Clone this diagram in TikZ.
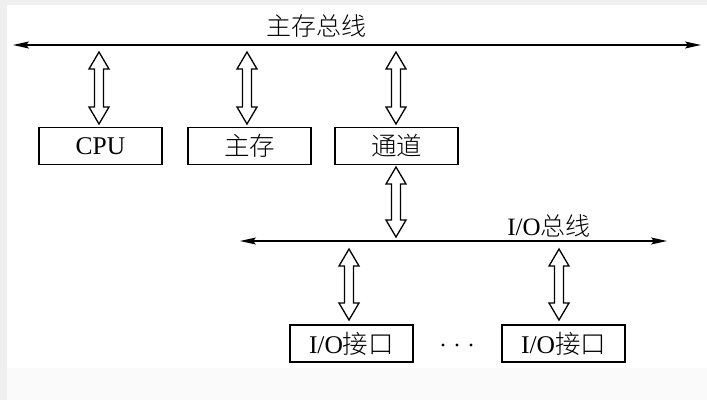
\documentclass[tikz,border=0pt]{standalone}
\usepackage{fontspec}
\setmainfont{Liberation Serif}
\newfontfamily\cjk{Noto Sans CJK SC}[UprightFont=* Light]
\usetikzlibrary{arrows.meta,calc}
\tikzset{
  box/.style={draw, line width=1.3pt, minimum width=123pt, minimum height=37pt, inner sep=0pt, font=\fontsize{25.5}{28}\selectfont},
  lbl/.style={inner sep=0pt, font=\fontsize{25}{28}\selectfont},
  bus/.style={line width=1.4pt, {Stealth[length=16pt,width=7pt,inset=3pt]}-{Stealth[length=16pt,width=7pt,inset=3pt]}},
  dblstyle/.style={draw, line width=1.3pt, fill=white, line join=miter},
  dotmark/.style={fill=black}
}
\newcommand\dblarrow[2]{%
  \path[dblstyle] let \p1=(#1), \p2=(#2) in
    (\x1,\y1) -- ({\x1+10pt},{\y1-17pt}) -- ({\x1+4.5pt},{\y1-17pt}) --
    ({\x1+4.5pt},{\y2+17pt}) -- ({\x1+10pt},{\y2+17pt}) -- (\x1,\y2) --
    ({\x1-10pt},{\y2+17pt}) -- ({\x1-4.5pt},{\y2+17pt}) --
    ({\x1-4.5pt},{\y1-17pt}) -- ({\x1-10pt},{\y1-17pt}) -- cycle;}
\begin{document}
\begin{tikzpicture}[x=1pt,y=-1pt]
  % background
  \fill[fill={rgb,255:red,239;green,239;blue,239}] (0,0) rectangle (707,400);
  \fill[fill={rgb,255:red,250;green,250;blue,250}] (7,5) rectangle (707,400);
  \fill[white] (7,5) rectangle (707,368);
  \useasboundingbox (0,0) rectangle (707,400);

  % main bus
  \coordinate (mL) at (13,45);
  \coordinate (mR) at (701,45);
  \draw[bus] (mL) -- (mR);
  \node[lbl] (mlabel) at (316,26) {\cjk 主存总线};

  % boxes
  \node[box] (cpu) at (100.5,146) {CPU};
  \node[box] (mem) at (249.5,146) {\cjk 主存};
  \node[box] (chan) at (396.5,146) {\cjk 通道};

  % arrows main bus -> boxes
  \coordinate (a1t) at (99,52);   \coordinate (a1b) at (99,124);
  \coordinate (a2t) at (247,52);  \coordinate (a2b) at (247,124);
  \coordinate (a3t) at (396,52);  \coordinate (a3b) at (396,124);
  \dblarrow{a1t}{a1b}
  \dblarrow{a2t}{a2b}
  \dblarrow{a3t}{a3b}

  % channel -> io bus
  \coordinate (a4t) at (396,167); \coordinate (a4b) at (396,237);
  \dblarrow{a4t}{a4b}

  % io bus
  \coordinate (iL) at (240,241);
  \coordinate (iR) at (667,241);
  \draw[bus] (iL) -- (iR);
  \node[lbl] (ilabel) at (549,226) {I/O\cjk 总线};

  % io interfaces
  \node[box] (io1) at (351.5,343.5) {I/O\cjk 接口};
  \node[box] (io2) at (563.5,343.5) {I/O\cjk 接口};
  \fill[dotmark] (443,345) circle (1.7);
  \fill[dotmark] (457,345) circle (1.7);
  \fill[dotmark] (471,345) circle (1.7);

  \coordinate (a5t) at (349,249); \coordinate (a5b) at (349,320);
  \coordinate (a6t) at (559,249); \coordinate (a6b) at (559,320);
  \dblarrow{a5t}{a5b}
  \dblarrow{a6t}{a6b}
\end{tikzpicture}
\end{document}
